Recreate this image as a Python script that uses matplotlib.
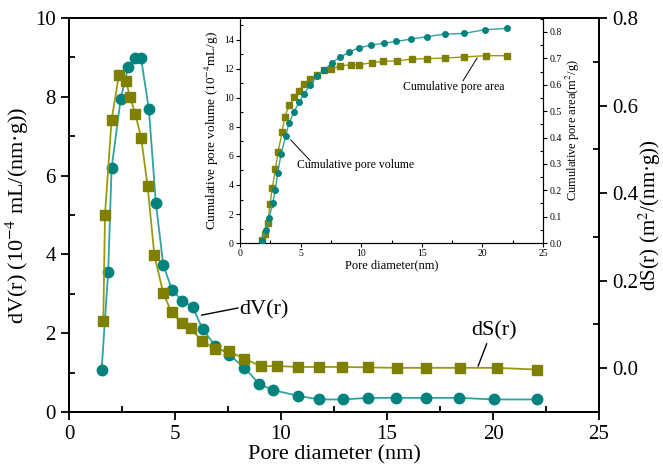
import numpy as np
import matplotlib
matplotlib.use("Agg")
import matplotlib.pyplot as plt
from matplotlib.ticker import MultipleLocator

plt.rcParams['font.family'] = ['Liberation Serif', 'DejaVu Serif']
plt.rcParams['mathtext.fontset'] = 'stix'

TEAL = '#00837f'
TEAL_LINE = '#2fa3a0'
OLIVE = '#808000'
OLIVE_LINE = '#9a9a10'

# differential pore volume, dV(r)
dv_d = [1.54, 1.85, 2.01, 2.44, 2.80, 3.11, 3.40, 3.77, 4.10, 4.45, 4.86, 5.33,
        5.83, 6.31, 6.90, 7.56, 8.27, 8.98, 9.61, 10.82, 11.81, 12.91, 14.12,
        15.42, 16.84, 18.41, 20.05, 22.06]
dv = [1.07, 3.55, 6.18, 7.95, 8.76, 8.98, 8.98, 7.68, 5.30, 3.73, 3.10, 2.83,
      2.67, 2.10, 1.68, 1.45, 1.13, 0.71, 0.56, 0.41, 0.32, 0.32, 0.36,
      0.36, 0.36, 0.36, 0.32, 0.32]

# differential pore area, dS(r)
ds_d = [1.62, 1.70, 2.01, 2.36, 2.69, 2.88, 3.13, 3.41, 3.71, 4.03, 4.45, 4.84,
        5.31, 5.74, 6.27, 6.88, 7.55, 8.25, 9.06, 9.83, 10.82, 11.81, 12.86,
        14.12, 15.45, 16.84, 18.44, 20.17, 22.09]
ds = [0.108, 0.351, 0.567, 0.670, 0.656, 0.619, 0.581, 0.525, 0.416, 0.258,
      0.171, 0.128, 0.104, 0.091, 0.062, 0.045, 0.039, 0.022, 0.005, 0.005,
      0.003, 0.003, 0.003, 0.002, 0.001, 0.001, 0.001, 0.001, -0.003]

# cumulative pore volume
cv_d = [1.79, 2.12, 2.40, 2.70, 2.92, 3.11, 3.39, 3.77, 4.05, 4.43, 4.88, 5.26,
        5.81, 6.36, 6.97, 7.58, 8.29, 9.01, 9.83, 10.77, 11.87, 12.89, 14.13,
        15.43, 16.88, 18.46, 20.19, 22.04]
cv = [0.16, 0.90, 1.70, 2.78, 3.66, 4.85, 6.12, 7.38, 8.26, 8.99, 9.70, 10.26,
      10.90, 11.52, 11.91, 12.43, 12.81, 13.15, 13.45, 13.61, 13.77, 13.88,
      14.05, 14.21, 14.39, 14.43, 14.69, 14.78]

# cumulative pore area
ca_d = [1.79, 2.07, 2.29, 2.48, 2.67, 2.92, 3.14, 3.47, 3.69, 4.07, 4.49, 4.88,
        5.32, 5.81, 6.34, 6.91, 7.52, 8.29, 9.12, 9.83, 10.85, 11.82, 12.93,
        14.16, 15.43, 16.91, 18.46, 20.30, 22.04]
ca = [0.010, 0.035, 0.077, 0.149, 0.209, 0.281, 0.346, 0.419, 0.479, 0.522,
      0.554, 0.578, 0.603, 0.622, 0.636, 0.655, 0.660, 0.671, 0.676, 0.676,
      0.683, 0.689, 0.690, 0.697, 0.699, 0.701, 0.705, 0.710, 0.710]


def style_ticks(ax, size, major_len, minor_len, width):
    ax.tick_params(which='major', direction='out', length=major_len, width=width, labelsize=size)
    ax.tick_params(which='minor', direction='in', length=minor_len, width=width)


fig = plt.figure(figsize=(6.63, 4.72), dpi=100)
ax = fig.add_axes([0.104, 0.127, 0.7995, 0.835])
ax2 = ax.twinx()

ax.plot(dv_d, dv, '-', color=TEAL_LINE, lw=1.3, zorder=2)
ax.plot(dv_d, dv, 'o', color=TEAL, ms=7.5, zorder=3)
ax2.plot(ds_d, ds, '-', color=OLIVE_LINE, lw=1.3, zorder=2)
ax2.plot(ds_d, ds, 's', color=OLIVE, ms=6.8, zorder=3)

ax.set_xlim(0, 25)
ax.set_ylim(0, 10)
ax2.set_ylim(-0.1, 0.8)
ax.xaxis.set_major_locator(MultipleLocator(5))
ax.xaxis.set_minor_locator(MultipleLocator(2.5))
ax.yaxis.set_major_locator(MultipleLocator(2))
ax.yaxis.set_minor_locator(MultipleLocator(1))
ax2.yaxis.set_minor_locator(MultipleLocator(0.1))
ax2.set_yticks([0.0, 0.2, 0.4, 0.6, 0.8])
for a in (ax, ax2):
    style_ticks(a, 15, 6, 4, 1.3)
    for s in a.spines.values():
        s.set_linewidth(1.3)

ax.set_xlabel('Pore diameter (nm)', fontsize=16, labelpad=1)
ax.set_ylabel('dV(r) (10$^{-4}$ mL/(nm·g))', fontsize=16, labelpad=3)
ax2.set_ylabel('dS(r) (m$^{2}$/(nm·g))', fontsize=15)
ax2.yaxis.set_label_coords(1.07, 0.5)

ax.plot([6.26, 7.97], [2.46, 2.64], color='black', lw=1)
ax.text(8.05, 2.6, 'dV(r)', fontsize=16, va='center', ha='left')
ax.plot([19.3, 19.7], [1.17, 1.73], color='black', lw=1)
ax.text(20.05, 2.05, 'dS(r)', fontsize=16, va='center', ha='center')

# cumulative curves in the inset
ins = fig.add_axes([0.362, 0.485, 0.457, 0.477])
ins2 = ins.twinx()
ins.plot(cv_d, cv, '-o', color=TEAL_LINE, mfc=TEAL, mec=TEAL, ms=4, lw=1, zorder=3)
ins2.plot(ca_d, ca, '-s', color=OLIVE_LINE, mfc=OLIVE, mec=OLIVE, ms=3.8, lw=1, zorder=2)
ins.set_zorder(ins2.get_zorder() + 1)
ins.patch.set_visible(False)

ins.set_xlim(0, 25)
ins.set_ylim(0, 15.5)
ins2.set_ylim(0, 0.853)
ins.xaxis.set_major_locator(MultipleLocator(5))
ins.xaxis.set_minor_locator(MultipleLocator(2.5))
ins.yaxis.set_major_locator(MultipleLocator(2))
ins.yaxis.set_minor_locator(MultipleLocator(1))
ins2.yaxis.set_major_locator(MultipleLocator(0.1))
ins2.yaxis.set_minor_locator(MultipleLocator(0.05))
for a in (ins, ins2):
    style_ticks(a, 7, 3, 2, 0.8)
    a.spines['top'].set_visible(False)
    for s in a.spines.values():
        s.set_linewidth(0.8)
ins.tick_params(axis='both', pad=1.5)
ins2.tick_params(axis='y', pad=1.5)

ins.set_xlabel('Pore diameter(nm)', fontsize=9, labelpad=1)
ins.set_ylabel('Cumulative pore volume (10$^{-4}$mL/g)', fontsize=9.5, labelpad=2)
ins2.set_ylabel('Cumulative pore area(m$^{2}$/g)', fontsize=9, labelpad=2)

ins.plot([4.19, 5.79], [7.1, 5.68], color='black', lw=0.7)
ins.text(4.69, 5.38, 'Cumulative pore volume', fontsize=8.5, va='center', ha='left')
ins.plot([19.56, 18.4], [12.74, 11.17], color='black', lw=0.7)
ins.text(13.45, 10.74, 'Cumulative pore area', fontsize=8.5, va='center', ha='left')

fig.savefig('out.png', dpi=100)
